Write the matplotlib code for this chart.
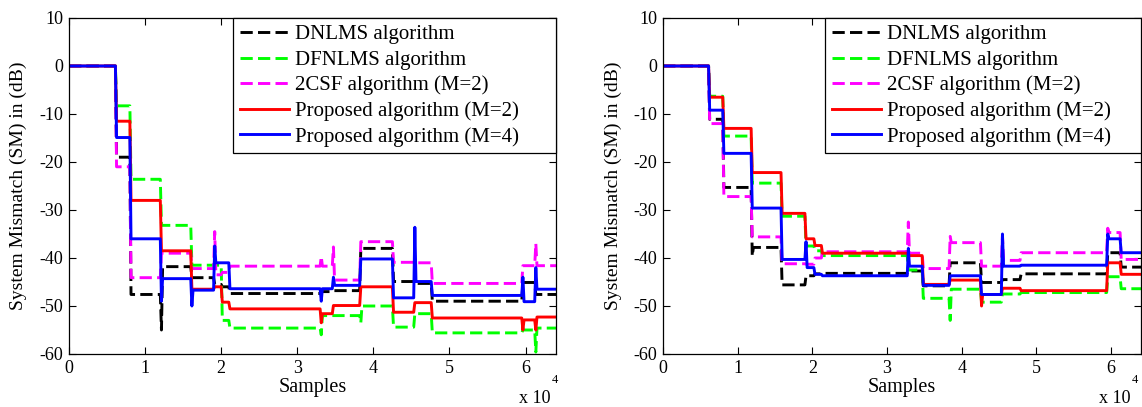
import matplotlib
matplotlib.use('Agg')
import matplotlib.pyplot as plt
from matplotlib.ticker import FuncFormatter

plt.rcParams['font.family'] = ['Liberation Serif', 'DejaVu Serif']
plt.rcParams['font.size'] = 13
plt.rcParams['axes.unicode_minus'] = False

labels = ['DNLMS algorithm', 'DFNLMS algorithm', '2CSF algorithm (M=2)',
          'Proposed algorithm (M=2)', 'Proposed algorithm (M=4)']
colors = ['black', '#00ff00', '#ff00ff', '#ff0000', '#0000ff']
dashed = [True, True, True, False, False]

# ---- left run: segment start times (samples) and SM level of each segment (dB)
t_left = [0, 6100, 8000, 12000, 16000, 19000, 20000, 21000, 33000, 34600,
          38200, 42500, 45300, 47600, 59500, 61200]
dnlms_left = [0, -19, -47.6, -41.8, -44.1, -45.5, -46, -47.4, -47, -46.8,
              -38, -44.9, -45.3, -49, -45.1, -47.6]
dfnlms_left = [0, -8.3, -23.6, -33.2, -41.5, -41.5, -53, -54.6, -52, -52,
               -50, -54.4, -51.6, -55.6, -55, -54.6]
csf_left = [0, -21, -44.1, -39, -42.2, -43.5, -43, -41.7, -41.7, -44.6,
            -36.6, -40.9, -41, -45.3, -41.6, -41.6]
prop2_left = [0, -11.5, -28, -38.5, -46.5, -46, -49.2, -50.6, -51.6, -49.9,
              -46, -51.3, -49.3, -52.5, -52.9, -52.3]
prop4_left = [0, -14.9, -36, -44.3, -46.7, -41, -41, -46.4, -46.4, -45.7,
              -40.2, -48.3, -44.9, -47.8, -49.1, -46.5]

# transient peaks at the start of a segment: {segment index: dB}
dnlms_left_pk = {3: -55}
dfnlms_left_pk = {8: -56, 10: -53.5, 15: -59.6}
csf_left_pk = {5: -34.5, 8: -39.7, 9: -37.7, 15: -37}
prop2_left_pk = {8: -53.5, 14: -55, 15: -55}
prop4_left_pk = {3: -49, 4: -50, 5: -37.5, 8: -49, 9: -44, 12: -33.6, 14: -44, 15: -42}

# ---- right run
t_right = [0, 6100, 8000, 11800, 15800, 19000, 20200, 21200, 32700, 34700,
           38300, 42500, 45300, 47800, 59400, 61200]
dnlms_right = [0, -11.1, -25.3, -37.8, -45.6, -43.7, -43.3, -43.2, -42.7, -45.8,
               -41, -45.1, -44.5, -43.3, -38.9, -41.9]
dfnlms_right = [0, -6.3, -14.6, -24.4, -31.3, -37.5, -38.5, -39.5, -42.5, -48.4,
                -46.5, -49.2, -47.5, -47.2, -43.9, -46.4]
csf_right = [0, -12, -27.2, -35.6, -41.2, -41.3, -40, -38.7, -39, -42.2,
             -36.8, -41.7, -40.5, -38.9, -34.7, -40.3]
prop2_right = [0, -6.5, -13, -22.2, -30.7, -36, -37.4, -39, -39.5, -45.5,
               -44.6, -47.6, -46.3, -46.8, -41, -43.4]
prop4_right = [0, -9.2, -18.2, -29.6, -40.3, -42, -43.4, -43.7, -41.7, -45.7,
               -43.7, -47.6, -41.7, -41.5, -36, -38.9]

dnlms_right_pk = {3: -39.6}
dfnlms_right_pk = {10: -53}
csf_right_pk = {8: -32.5, 10: -35.5, 12: -35.4, 14: -33.8}
prop2_right_pk = {11: -50}
prop4_right_pk = {5: -36.6, 8: -38, 12: -35, 14: -35}

n_samples = 64000


def trace(t, levels, peaks, ramp=150):
    xs, ys = [t[0]], [levels[0]]
    for i in range(1, len(t)):
        xs.append(t[i])
        ys.append(levels[i - 1])
        if i in peaks:
            xs += [t[i] + ramp, t[i] + 2 * ramp]
            ys += [peaks[i], levels[i]]
        else:
            xs.append(t[i] + ramp)
            ys.append(levels[i])
    xs.append(n_samples)
    ys.append(levels[-1])
    return xs, ys


def draw(ax, t, curves, peaks, legend_x0, exp_x):
    for lev, pk, lab, col, dash in zip(curves, peaks, labels, colors, dashed):
        xs, ys = trace(t, lev, pk)
        ls = (0, (4.2, 1.8)) if dash else '-'
        ax.plot(xs, ys, color=col, ls=ls, lw=2.1, label=lab)
    ax.set_xlim(0, n_samples)
    ax.set_ylim(-60, 10)
    ax.set_xticks(range(0, 60001, 10000))
    ax.xaxis.set_major_formatter(FuncFormatter(lambda v, p: '%d' % round(v / 1e4)))
    ax.set_yticks(range(-60, 11, 10))
    ax.tick_params(direction='in', top=True, right=True, length=5, width=0.8,
                   labelsize=13, pad=4)
    for s in ax.spines.values():
        s.set_linewidth(0.9)
    ax.set_xlabel('Samples', fontsize=14.5)
    ax.xaxis.set_label_coords(0.5, -0.10)
    ax.xaxis.label.set_va('center')
    ax.set_ylabel('System Mismatch (SM) in (dB)', fontsize=14)
    ax.yaxis.set_label_coords(-0.086, 0.5)
    # exponent of the sample axis
    ax.text(exp_x, -0.131, 'x 10', transform=ax.transAxes, ha='right',
            va='center', fontsize=13)
    ax.text(exp_x + 0.003, -0.078, '4', transform=ax.transAxes, ha='left',
            va='center', fontsize=9)
    leg = ax.legend(loc='upper left', bbox_to_anchor=(legend_x0, 0, 1 - legend_x0, 1),
                    mode='expand', borderaxespad=0, fancybox=False,
                    edgecolor='black', framealpha=1, fontsize=15,
                    handlelength=2.35, handletextpad=0.3, labelspacing=0.28,
                    borderpad=0.33)
    leg.get_frame().set_linewidth(0.9)


fig = plt.figure(figsize=(11.42, 4.07), dpi=100)
ax1 = fig.add_axes([69 / 1142, 53 / 407, 487 / 1142, 336 / 407])
ax2 = fig.add_axes([663 / 1142, 53 / 407, 478 / 1142, 336 / 407])

draw(ax1, t_left,
     [dnlms_left, dfnlms_left, csf_left, prop2_left, prop4_left],
     [dnlms_left_pk, dfnlms_left_pk, csf_left_pk, prop2_left_pk, prop4_left_pk],
     0.337, 0.988)
draw(ax2, t_right,
     [dnlms_right, dfnlms_right, csf_right, prop2_right, prop4_right],
     [dnlms_right_pk, dfnlms_right_pk, csf_right_pk, prop2_right_pk, prop4_right_pk],
     0.339, 0.977)

fig.savefig('out.png', dpi=100)
